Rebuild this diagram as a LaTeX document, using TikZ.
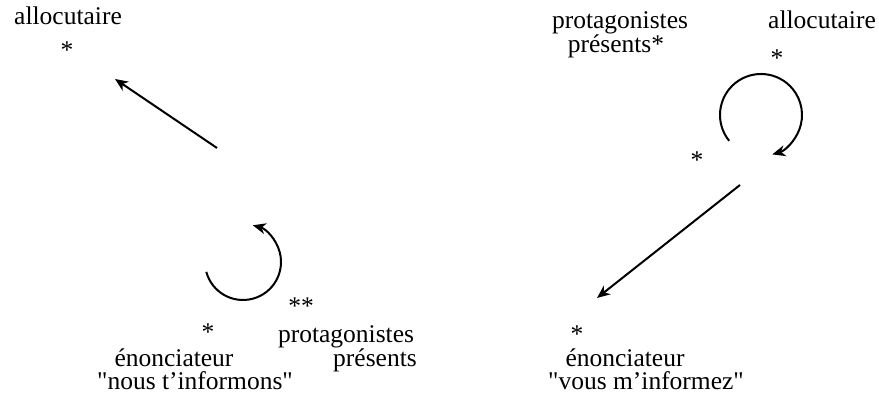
\documentclass[tikz,border=0pt]{standalone}
\usepackage{fontspec}
\setmainfont{Liberation Serif}
\usetikzlibrary{arrows.meta,calc}
\begin{document}
\begin{tikzpicture}[x=1pt, y=1pt, every node/.style={font=\fontsize{25.5}{28}\selectfont, inner sep=0pt, anchor=base},
  arr/.style={line width=2pt, -{Stealth[length=13pt, width=11pt, inset=4pt]}}]
  \useasboundingbox (0,0) rectangle (879,411);

  % Left: nous t'informons
  \node (allocL) at (68, 386) {allocutaire};
  \node (starAL) at (67, 352) {*};
  \node (protL) at (346, 68) {protagonistes};
  \node[anchor=base east] (presL) at (417, 44) {présents};
  \node (starsL) at (301, 96) {**};
  \node (starEL) at (208, 70) {*};
  \node (enonL) at (174, 44) {énonciateur};
  \node (nousL) at (195, 21) {\textquotedbl nous t'informons\textquotedbl};
  \coordinate (fromL) at (217, 263);
  \coordinate (toL) at (115, 332);
  \draw[arr] (fromL) -- (toL);
  \coordinate (loopL) at (243, 149);
  \draw[arr] ($(loopL)+(195:38)$) arc[start angle=195, end angle=435, radius=38];

  % Right: vous m'informez
  \node (protR) at (620, 382) {protagonistes};
  \node (presR) at (616, 358) {présents*};
  \node (allocR) at (822, 382) {allocutaire};
  \node (starAR) at (777, 344) {*};
  \node (starMR) at (697, 242) {*};
  \node (starER) at (577, 68) {*};
  \node (enonR) at (625, 44) {énonciateur};
  \node (vousR) at (646, 21) {\textquotedbl vous m'informez\textquotedbl};
  \coordinate (fromR) at (740, 226);
  \coordinate (toR) at (597, 113);
  \draw[arr] (fromR) -- (toR);
  \coordinate (loopR) at (761, 296);
  \draw[arr] ($(loopR)+(219:41)$) arc[start angle=219, end angle=-74, radius=41];
\end{tikzpicture}
\end{document}
